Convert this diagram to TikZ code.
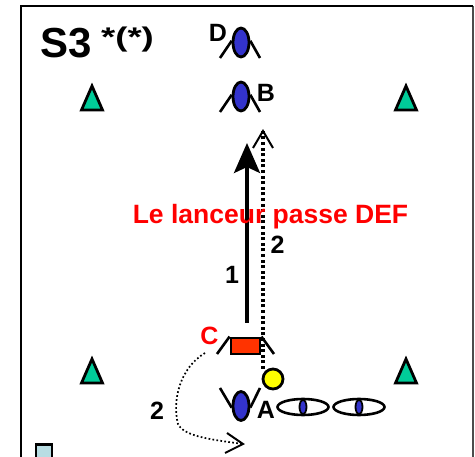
\documentclass[tikz,border=0pt]{standalone}
\usepackage{fontspec}
\setmainfont{Liberation Sans}
\usetikzlibrary{arrows.meta,shapes.geometric}
\definecolor{pblue}{RGB}{51,51,204}
\definecolor{tgreen}{RGB}{0,204,153}
\definecolor{cred}{RGB}{255,51,0}
\definecolor{ballyel}{RGB}{255,255,0}
\definecolor{sqblue}{RGB}{184,221,227}
\definecolor{txtred}{RGB}{255,0,0}
\tikzset{
  lab/.style={inner sep=0pt,font=\fontsize{25}{27}\selectfont\bfseries},
  body/.style={draw=black,line width=2.8pt,fill=pblue,ellipse,minimum width=16pt,minimum height=29pt,inner sep=0pt},
  arm/.style={draw=black,line width=2.6pt},
  cone/.style={draw=black,line width=2.8pt,fill=tgreen,line join=miter},
  eye/.style={draw=black,line width=2.6pt,fill=white,ellipse,minimum width=51pt,minimum height=16pt,inner sep=0pt},
  pupil/.style={draw=black,line width=1.8pt,fill=pblue,ellipse,minimum width=7pt,minimum height=14pt,inner sep=0pt},
  dots/.style={draw=black,line width=3.2pt,dash pattern=on 3pt off 2.6pt},
  thindots/.style={draw=black,line width=1.7pt,dash pattern=on 1.7pt off 2.3pt},
  open/.style={draw=black,line width=2pt,line join=miter}
}
\begin{document}
\begin{tikzpicture}[x=1pt,y=-1pt]
\useasboundingbox (0,0) rectangle (475,457);
\fill[white] (0,0) rectangle (475,457);
% frame
\coordinate (fbl) at (21,457);\coordinate (ftl) at (21,6);\coordinate (ftr) at (473,6);\coordinate (fbr) at (473,457);
\draw[line width=1.4pt,draw=black!70] (ftr) -- (fbr);
\draw[line width=2.6pt] (fbl) -- (ftl) -- (ftr);
% title
\node[inner sep=0pt,anchor=base west,font=\fontsize{42}{44}\selectfont\bfseries] (title) at (40.5,58) {S3};
\node[inner sep=0pt,anchor=base west,font=\fontsize{27}{29}\selectfont\bfseries] (stars) at (101,46.5) {\scalebox{1.35}[1]{*(*)}};
% cones
\foreach \x/\y in {92/86,406/86,92/359,406/359}{
  \draw[cone] (\x,\y) -- ++(-10.5,24) -- ++(21,0) -- cycle;
}
% players D, B, A
\node[body] (D) at (241,42.5) {};
\draw[arm] (D.170) -- (220,58);
\draw[arm] (D.10) -- (260,58);
\node[lab,anchor=center] (Dl) at (218,33) {D};
\node[body] (B) at (241,96.5) {};
\draw[arm] (B.170) -- (220,112);
\draw[arm] (B.10) -- (260,112);
\node[lab,anchor=center] (Bl) at (266,93) {B};
\node[body] (A) at (241,406) {};
\draw[arm] (A.190) -- (220,388);
\draw[arm] (A.350) -- (260,388);
\node[lab,anchor=center] (Al) at (266,410) {A};
% eyes
\node[eye] (e1) at (303,407) {};
\node[pupil] (p1) at (303,407) {};
\node[eye] (e2) at (359,407) {};
\node[pupil] (p2) at (359,407) {};
% C rectangle
\node[draw=black,line width=2.8pt,fill=cred,minimum width=29pt,minimum height=16pt,inner sep=0pt] (Cr) at (245.5,346) {};
\draw[arm] (Cr.north west) -- (217,354);
\draw[arm] (Cr.north east) -- (274,354);
\node[lab,anchor=center,text=txtred] (Cl) at (209.5,336) {C};
% ball
\node[draw=black,line width=2.8pt,fill=ballyel,circle,minimum size=20pt,inner sep=0pt] (ball) at (273,379) {};
% solid arrow
\coordinate (s0) at (247,323);\coordinate (s1) at (247,143);
\draw[line width=3.6pt,-{Stealth[length=30pt,width=26pt,inset=6pt]}] (s0) -- (s1);
% dotted straight pass
\coordinate (d1) at (263,131);\coordinate (d0) at (263,369);
\draw[dots] (d0) -- (d1);
\coordinate (w1) at (253,148);\coordinate (w2) at (273,148);
\draw[open] (w1) -- (d1) -- (w2);
% curved run
\coordinate (r0) at (205,353);\coordinate (r1) at (243,444);
\draw[thindots] (r0) .. controls (180,368) and (172,400) .. (178,424) .. controls (184,437) and (215,440) .. (r1);
\coordinate (w3) at (227,433);\coordinate (w4) at (225,453);
\draw[open] (w3) -- (r1) -- (w4);
% labels
\node[inner sep=0pt,font=\fontsize{26.5}{28}\selectfont\bfseries,text=txtred] (msg) at (270.5,217) {Le lanceur passe DEF};
\node[lab] (n1) at (232,275) {1};
\node[lab] (n2) at (277.5,245) {2};
\node[lab] (n3) at (157,411) {2};
% square
\filldraw[fill=sqblue,draw=black,line width=2.2pt] (36,459) -- (36,444.5) -- (52,444.5) -- (52,459);
\end{tikzpicture}
\end{document}
